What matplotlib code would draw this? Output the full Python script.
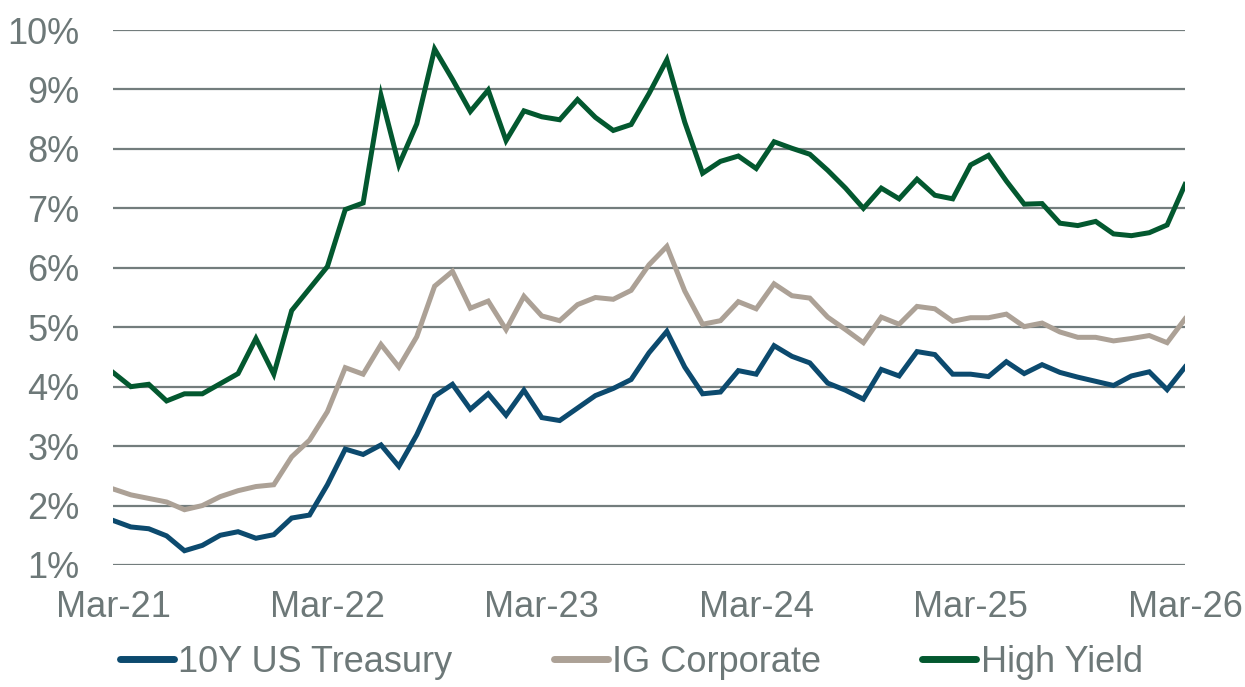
import matplotlib
matplotlib.use("Agg")
import matplotlib.pyplot as plt
from matplotlib import font_manager
import numpy as np
import pandas as pd

# monthly observations, Mar-21 .. Mar-26
months = pd.date_range("2021-03-01", periods=61, freq="MS")

treasury_10y = [1.75, 1.64, 1.61, 1.49, 1.24, 1.33, 1.50, 1.56, 1.45, 1.51,
                1.79, 1.84, 2.35, 2.95, 2.86, 3.02, 2.66, 3.19, 3.84, 4.04,
                3.62, 3.88, 3.52, 3.94, 3.48, 3.43, 3.64, 3.85, 3.97, 4.12,
                4.57, 4.93, 4.33, 3.88, 3.91, 4.27, 4.21, 4.69, 4.51, 4.40,
                4.06, 3.94, 3.79, 4.29, 4.18, 4.59, 4.54, 4.21, 4.21, 4.17,
                4.42, 4.22, 4.37, 4.24, 4.16, 4.09, 4.02, 4.18, 4.25, 3.95,
                4.33]

ig_corporate = [2.28, 2.18, 2.12, 2.06, 1.93, 2.00, 2.15, 2.25, 2.32, 2.35,
                2.82, 3.10, 3.58, 4.32, 4.21, 4.71, 4.33, 4.84, 5.69, 5.94,
                5.32, 5.44, 4.96, 5.52, 5.19, 5.11, 5.38, 5.50, 5.47, 5.62,
                6.05, 6.36, 5.61, 5.05, 5.11, 5.43, 5.31, 5.73, 5.53, 5.49,
                5.17, 4.96, 4.74, 5.17, 5.05, 5.35, 5.31, 5.10, 5.16, 5.16,
                5.22, 5.01, 5.07, 4.92, 4.83, 4.83, 4.77, 4.81, 4.86, 4.74,
                5.14]

high_yield = [4.24, 4.00, 4.04, 3.76, 3.88, 3.88, 4.05, 4.22, 4.81, 4.21,
              5.28, 5.65, 6.02, 6.98, 7.09, 8.90, 7.73, 8.42, 9.68, 9.17,
              8.63, 8.99, 8.14, 8.64, 8.54, 8.49, 8.83, 8.53, 8.31, 8.41,
              8.93, 9.50, 8.45, 7.59, 7.79, 7.88, 7.67, 8.12, 8.01, 7.91,
              7.64, 7.34, 7.00, 7.34, 7.16, 7.49, 7.22, 7.16, 7.73, 7.89,
              7.46, 7.07, 7.08, 6.75, 6.71, 6.78, 6.57, 6.54, 6.59, 6.72,
              7.40]

series_names = ["10Y US Treasury", "IG Corporate", "High Yield"]
series_colors = ["#0c4a6e", "#aca196", "#03582f"]
y_ticks = list(range(1, 11))

available = {f.name for f in font_manager.fontManager.ttflist}
if "Liberation Sans Narrow" in available:
    plt.rcParams["font.family"] = ["Liberation Sans Narrow", "DejaVu Sans"]
    fsize = 31
else:
    plt.rcParams["font.family"] = ["Liberation Sans", "DejaVu Sans"]
    fsize = 26

text_color = "#6d7878"
grid_color = "#737d7d"

fig = plt.figure(figsize=(12.45, 6.87), dpi=100)
W, H = 1245, 687
ax = fig.add_axes([113 / W, 1 - 565 / H, (1185 - 113) / W, (565 - 30) / H])

x = np.arange(len(months))
for vals, name, col in zip([treasury_10y, ig_corporate, high_yield],
                           series_names, series_colors):
    ax.plot(x, vals, color=col, lw=3.6, label=name,
            solid_joinstyle="miter", zorder=3)

ax.set_xlim(0, len(months) - 1)
ax.set_ylim(1, 10)
ax.set_yticks(y_ticks)
ax.set_yticklabels([f"{v}%" for v in y_ticks])
tick_pos = x[::12]
ax.set_xticks(tick_pos)
ax.set_xticklabels([months[i].strftime("%b-%y") for i in tick_pos])

ax.grid(axis="y", color=grid_color, lw=1.6, zorder=1)
ax.grid(axis="x", visible=False)
for s in ax.spines.values():
    s.set_visible(False)
ax.tick_params(axis="both", length=0, labelsize=fsize, colors=text_color)
ax.tick_params(axis="x", pad=18)
ax.tick_params(axis="y", pad=24)

leg = fig.legend(loc="center", bbox_to_anchor=(0.507, 1 - 662 / H),
                 ncol=3, frameon=False, fontsize=fsize,
                 handlelength=1.5, handletextpad=0.12, columnspacing=2.8,
                 borderaxespad=0.0, borderpad=0.0)
for t in leg.get_texts():
    t.set_color(text_color)
for h in leg.get_lines():
    h.set_linewidth(5)
    h.set_solid_capstyle("round")

fig.savefig("out.png", dpi=100)
